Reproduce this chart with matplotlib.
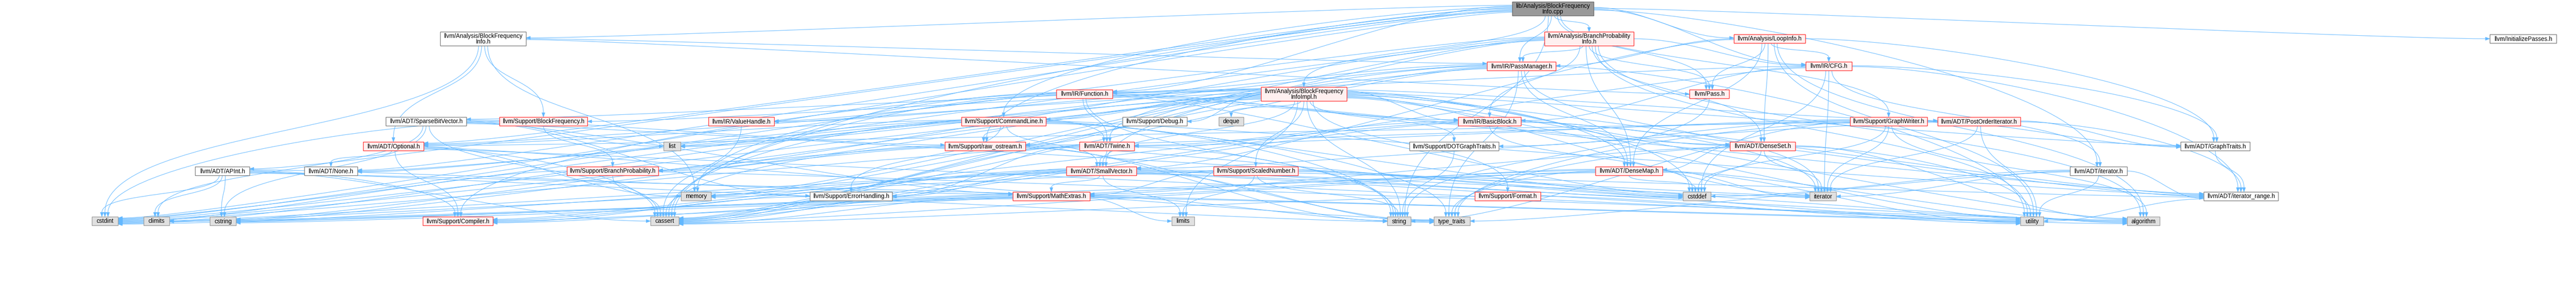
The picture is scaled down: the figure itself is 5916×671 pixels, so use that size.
"""
Include dependency graph for lib/Analysis/BlockFrequencyInfo.cpp,
redrawn with matplotlib (boxes + spline edges, doxygen colours).
"""

from collections import defaultdict

import numpy as np
import matplotlib
matplotlib.use("Agg")
import matplotlib.pyplot as plt
from matplotlib.path import Path
from matplotlib.patches import PathPatch, Rectangle, Polygon

plt.rcParams["font.family"] = ["Liberation Sans", "DejaVu Sans"]

# =============================================================================
# Graph data
# =============================================================================

LABELS = {
    "root":          "lib/Analysis/BlockFrequency\nInfo.cpp",
    "bfi_h":         "llvm/Analysis/BlockFrequency\nInfo.h",
    "bpi_h":         "llvm/Analysis/BranchProbability\nInfo.h",
    "loopinfo":      "llvm/Analysis/LoopInfo.h",
    "initpasses":    "llvm/InitializePasses.h",
    "passmgr":       "llvm/IR/PassManager.h",
    "cfg":           "llvm/IR/CFG.h",
    "function":      "llvm/IR/Function.h",
    "bfimpl":        "llvm/Analysis/BlockFrequency\nInfoImpl.h",
    "pass":          "llvm/Pass.h",
    "sparsebv":      "llvm/ADT/SparseBitVector.h",
    "blockfreq":     "llvm/Support/BlockFrequency.h",
    "valuehandle":   "llvm/IR/ValueHandle.h",
    "cmdline":       "llvm/Support/CommandLine.h",
    "debug":         "llvm/Support/Debug.h",
    "deque":         "deque",
    "basicblock":    "llvm/IR/BasicBlock.h",
    "graphwriter":   "llvm/Support/GraphWriter.h",
    "postorder":     "llvm/ADT/PostOrderIterator.h",
    "optional":      "llvm/ADT/Optional.h",
    "list":          "list",
    "rawostream":    "llvm/Support/raw_ostream.h",
    "twine":         "llvm/ADT/Twine.h",
    "dotgraph":      "llvm/Support/DOTGraphTraits.h",
    "denseset":      "llvm/ADT/DenseSet.h",
    "graphtraits":   "llvm/ADT/GraphTraits.h",
    "apint":         "llvm/ADT/APInt.h",
    "none":          "llvm/ADT/None.h",
    "branchprob":    "llvm/Support/BranchProbability.h",
    "smallvector":   "llvm/ADT/SmallVector.h",
    "scalednum":     "llvm/Support/ScaledNumber.h",
    "densemap":      "llvm/ADT/DenseMap.h",
    "iteratorh":     "llvm/ADT/iterator.h",
    "memory":        "memory",
    "errorhandling": "llvm/Support/ErrorHandling.h",
    "mathextras":    "llvm/Support/MathExtras.h",
    "format":        "llvm/Support/Format.h",
    "cstddef":       "cstddef",
    "iterator":      "iterator",
    "iterrange":     "llvm/ADT/iterator_range.h",
    "cstdint":       "cstdint",
    "climits":       "climits",
    "cstring":       "cstring",
    "compiler":      "llvm/Support/Compiler.h",
    "cassert":       "cassert",
    "limits":        "limits",
    "string":        "string",
    "type_traits":   "type_traits",
    "utility":       "utility",
    "algorithm":     "algorithm",
}

# root / red (includes hidden) / white (fully shown) / sys (std header)
RED_NODES = ["bpi_h", "loopinfo", "passmgr", "cfg", "function", "bfimpl",
             "pass", "blockfreq", "valuehandle", "cmdline", "basicblock",
             "graphwriter", "postorder", "optional", "rawostream", "twine",
             "denseset", "branchprob", "smallvector", "scalednum", "densemap",
             "mathextras", "format", "compiler"]
WHITE_NODES = ["bfi_h", "initpasses", "sparsebv", "debug", "dotgraph",
               "graphtraits", "apint", "none", "iteratorh", "errorhandling",
               "iterrange"]
SYS_NODES = ["deque", "list", "memory", "cstddef", "iterator", "cstdint",
             "climits", "cstring", "cassert", "limits", "string",
             "type_traits", "utility", "algorithm"]

INCLUDES = {
    "root": ["bfi_h", "bpi_h", "loopinfo", "initpasses", "passmgr", "cfg",
             "function", "bfimpl", "pass", "apint", "none", "optional",
             "iteratorh", "cmdline", "graphwriter", "rawostream", "cassert",
             "cstdint", "string"],
    "bfi_h": ["optional", "passmgr", "pass", "blockfreq", "cstdint", "memory"],
    "bpi_h": ["densemap", "denseset", "basicblock", "cfg", "passmgr",
              "valuehandle", "pass", "branchprob", "cassert", "cstdint",
              "memory", "utility", "algorithm"],
    "loopinfo": ["densemap", "denseset", "graphtraits", "smallvector", "cfg",
                 "passmgr", "pass", "algorithm", "utility"],
    "passmgr": ["densemap", "smallvector", "function", "cassert", "cstring",
                "iterator", "list", "memory", "type_traits", "utility"],
    "cfg": ["graphtraits", "iteratorh", "iterrange", "basicblock", "function",
            "cassert", "cstddef", "iterator"],
    "function": ["denseset", "twine", "iterrange", "basicblock", "compiler",
                 "cassert", "cstddef", "cstdint", "memory", "string"],
    "bfimpl": ["sparsebv", "densemap", "denseset", "graphtraits", "none",
               "optional", "postorder", "smallvector", "twine", "iterrange",
               "basicblock", "valuehandle", "blockfreq", "branchprob",
               "cmdline", "dotgraph", "debug", "format", "scalednum",
               "rawostream", "algorithm", "cassert", "cstddef", "cstdint",
               "deque", "iterator", "limits", "list", "string", "utility"],
    "pass": ["string"],
    "sparsebv": ["errorhandling", "mathextras", "rawostream", "cassert",
                 "climits", "cstring", "iterator", "list"],
    "blockfreq": ["branchprob", "cstdint"],
    "valuehandle": ["cassert"],
    "cmdline": ["none", "optional", "smallvector", "twine", "iterrange",
                "errorhandling", "rawostream", "cassert", "climits",
                "cstddef", "string", "type_traits"],
    "basicblock": ["twine", "iterrange", "compiler", "cassert", "cstddef",
                   "iterator"],
    "graphwriter": ["graphtraits", "twine", "dotgraph", "rawostream",
                    "algorithm", "cstddef", "iterator", "string",
                    "type_traits"],
    "postorder": ["graphtraits", "optional", "smallvector", "iterrange",
                  "iterator", "utility"],
    "optional": ["none", "compiler", "type_traits", "cassert", "memory",
                 "utility"],
    "rawostream": ["cassert", "cstddef", "cstdint", "cstring", "string",
                   "type_traits"],
    "twine": ["smallvector", "errorhandling", "cassert", "cstdint", "string"],
    "dotgraph": ["string"],
    "denseset": ["densemap", "mathextras", "type_traits", "algorithm",
                 "cstddef", "iterator", "utility"],
    "graphtraits": ["iterrange"],
    "apint": ["compiler", "mathextras", "cassert", "climits", "cstdint",
              "cstring", "string", "utility"],
    "branchprob": ["algorithm", "cassert", "cstdint"],
    "smallvector": ["iterrange", "compiler", "errorhandling", "mathextras",
                    "type_traits", "algorithm", "cassert", "cstddef",
                    "cstdint", "cstring", "iterator", "limits", "memory",
                    "utility"],
    "scalednum": ["mathextras", "algorithm", "cstdint", "limits", "string",
                  "utility"],
    "densemap": ["compiler", "mathextras", "type_traits", "algorithm",
                 "cassert", "cstddef", "cstring", "iterator", "utility"],
    "iteratorh": ["iterrange", "cstddef", "iterator", "type_traits",
                  "utility"],
    "errorhandling": ["compiler"],
    "mathextras": ["compiler", "type_traits", "algorithm", "cassert",
                   "climits", "cstdint", "cstring", "limits"],
    "format": ["cassert", "utility"],
    "iterrange": ["utility"],
}

# =============================================================================
# Layout (pixels of the reference render): rank row, left x, right x
# =============================================================================

W, H = 5916, 671
ROW_Y = [20, 89, 152, 216, 279, 336, 393, 451, 508]

POS = {
    "root": (0, 3473, 3660),
    "bfi_h": (1, 1011, 1208), "bpi_h": (1, 3547, 3752),
    "loopinfo": (1, 3982, 4146), "initpasses": (1, 5718, 5871),
    "passmgr": (2, 3415, 3573), "cfg": (2, 4147, 4253),
    "function": (3, 2426, 2555), "bfimpl": (3, 2896, 3093),
    "pass": (3, 3880, 3971),
    "sparsebv": (4, 886, 1071), "blockfreq": (4, 1147, 1349),
    "valuehandle": (4, 1627, 1778), "cmdline": (4, 2208, 2402),
    "debug": (4, 2578, 2726), "deque": (4, 2799, 2856),
    "basicblock": (4, 3349, 3493), "graphwriter": (4, 4249, 4426),
    "postorder": (4, 4450, 4640),
    "optional": (5, 834, 973), "list": (5, 1524, 1563),
    "rawostream": (5, 2170, 2355), "twine": (5, 2479, 2605),
    "dotgraph": (5, 3237, 3442), "denseset": (5, 3973, 4123),
    "graphtraits": (5, 5008, 5167),
    "apint": (6, 448, 573), "none": (6, 699, 821),
    "branchprob": (6, 1302, 1512), "smallvector": (6, 2449, 2610),
    "scalednum": (6, 2787, 2981), "densemap": (6, 3664, 3818),
    "iteratorh": (6, 4754, 4885),
    "memory": (7, 1564, 1633), "errorhandling": (7, 1860, 2049),
    "mathextras": (7, 2326, 2503), "format": (7, 3387, 3538),
    "cstddef": (7, 3865, 3929), "iterator": (7, 4156, 4217),
    "iterrange": (7, 5061, 5232),
    "cstdint": (8, 211, 271), "climits": (8, 330, 389),
    "cstring": (8, 482, 542), "compiler": (8, 971, 1132),
    "cassert": (8, 1494, 1559), "limits": (8, 2691, 2743),
    "string": (8, 3186, 3240), "type_traits": (8, 3293, 3376),
    "utility": (8, 4640, 4693), "algorithm": (8, 4885, 4960),
}

STYLE = {
    "root":  {"fc": "#999999", "ec": "#666666"},
    "red":   {"fc": "#fff0f0", "ec": "#ff2a2a"},
    "white": {"fc": "#ffffff", "ec": "#777777"},
    "sys":   {"fc": "#e0e0e0", "ec": "#999999"},
}
EDGE_COLOR = "#63b8ff"

kind = {"root": "root"}
kind.update({k: "red" for k in RED_NODES})
kind.update({k: "white" for k in WHITE_NODES})
kind.update({k: "sys" for k in SYS_NODES})

# =============================================================================
# Geometry helpers
# =============================================================================

boxes = {}
for key, (row, x0, x1) in POS.items():
    h = 32 if "\n" in LABELS[key] else 20
    cy = ROW_Y[row]
    boxes[key] = (x0, cy - h / 2, x1, cy + h / 2)


def centre(k):
    x0, y0, x1, y1 = boxes[k]
    return (x0 + x1) / 2, (y0 + y1) / 2


edges = [(s, t) for s, ts in INCLUDES.items() for t in ts]

# pick ports (side vs bottom/top) for every edge
ports = {}
for s, t in edges:
    sx, sy = centre(s)
    tx, ty = centre(t)
    dx = tx - sx
    gap = max(boxes[t][1] - boxes[s][3], 10)
    ws = boxes[s][2] - boxes[s][0]
    wt = boxes[t][2] - boxes[t][0]
    out_side = ("right" if dx > 0 else "left") if abs(dx) > 3.0 * gap + ws / 2 else "bottom"
    in_side = ("left" if dx > 0 else "right") if abs(dx) > 5.0 * gap + wt / 2 else "top"
    ports[(s, t)] = (out_side, in_side)

# spread edges sharing the same port
groups = defaultdict(list)
for (s, t), (o, i) in ports.items():
    groups[(s, o)].append((s, t, "out"))
    groups[(t, i)].append((s, t, "in"))

offsets = {}
for (node, side), items in groups.items():
    x0, y0, x1, y1 = boxes[node]
    n = len(items)

    def other(it):
        return centre(it[1] if it[2] == "out" else it[0])

    if side in ("top", "bottom"):
        items.sort(key=lambda it: other(it)[0])
        step = min(7.0, 0.7 * (x1 - x0) / max(n - 1, 1))
    else:
        items.sort(key=lambda it: other(it)[1])
        step = min(2.0, (y1 - y0 - 6) / max(n - 1, 1))
    for j, it in enumerate(items):
        offsets[it] = (j - (n - 1) / 2) * step


def port_point(node, side, off):
    x0, y0, x1, y1 = boxes[node]
    cx, cy = (x0 + x1) / 2, (y0 + y1) / 2
    if side == "bottom":
        return np.array([cx + off, y1])
    if side == "top":
        return np.array([cx + off, y0])
    if side == "left":
        return np.array([x0, cy + off])
    return np.array([x1, cy + off])


# =============================================================================
# Draw
# =============================================================================

fig = plt.figure(figsize=(W / 100, H / 100), dpi=100)
ax = fig.add_axes([0, 0, 1, 1])
ax.set_xlim(0, W)
ax.set_ylim(H, 0)
ax.axis("off")

ARROW_LEN, ARROW_HALF = 10.0, 3.6

for s, t in edges:
    o, i = ports[(s, t)]
    p0 = port_point(s, o, offsets[(s, t, "out")])
    p3 = port_point(t, i, offsets[(s, t, "in")])
    dxp, dyp = p3 - p0
    sgn = 1.0 if dxp >= 0 else -1.0
    reach = min(0.35 * abs(dxp), 260)
    if o == "bottom":
        p1 = p0 + np.array([0, 0.5 * dyp])
    else:
        p1 = p0 + np.array([sgn * reach, 0])
    if i == "top":
        p2 = p3 - np.array([0, 0.5 * dyp])
    else:
        p2 = p3 - np.array([sgn * reach, 0])

    d = p3 - p2
    u = d / (np.hypot(*d) or 1.0)
    base = p3 - ARROW_LEN * u
    nrm = np.array([-u[1], u[0]])

    path = Path([p0, p1, p2 - ARROW_LEN * u, base],
                [Path.MOVETO, Path.CURVE4, Path.CURVE4, Path.CURVE4])
    ax.add_patch(PathPatch(path, fc="none", ec=EDGE_COLOR, lw=0.8, zorder=1))
    ax.add_patch(Polygon([p3, base + ARROW_HALF * nrm, base - ARROW_HALF * nrm],
                         closed=True, fc=EDGE_COLOR, ec=EDGE_COLOR, lw=0.5,
                         zorder=2))

for key, (x0, y0, x1, y1) in boxes.items():
    st = STYLE[kind[key]]
    ax.add_patch(Rectangle((x0, y0), x1 - x0, y1 - y0, fc=st["fc"],
                           ec=st["ec"], lw=1.0, zorder=3))
    ax.text((x0 + x1) / 2, (y0 + y1) / 2 + 0.5, LABELS[key], ha="center",
            va="center", fontsize=9.8, linespacing=0.95, color="black",
            zorder=4)

fig.savefig("out.png", dpi=100)
plt.close(fig)
